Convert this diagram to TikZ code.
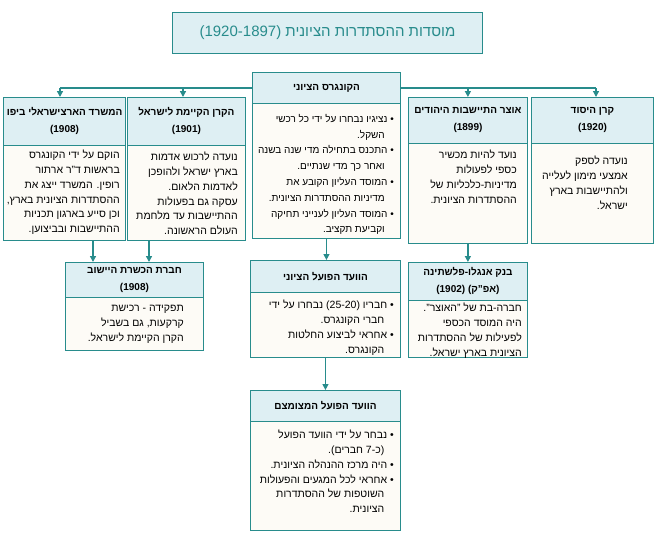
\documentclass[tikz,border=0pt]{standalone}
\usepackage{fontspec}
\setmainfont[Script=Hebrew]{Liberation Sans}
\TeXXeTstate=1
\usetikzlibrary{positioning,calc,arrows.meta}
\definecolor{teal1}{RGB}{40,140,140}
\definecolor{headfill}{RGB}{222,239,243}
\definecolor{bodyfill}{RGB}{253,251,246}
\newcommand{\R}[1]{\beginR #1\endR}
\newcommand{\RI}[1]{\beginR\hspace*{0.9em}#1\endR}
\tikzset{
  frame/.style={draw=teal1, line width=0.9pt, fill=bodyfill, anchor=north west, inner sep=0pt},
  head/.style={draw=teal1, line width=0.9pt, fill=headfill, anchor=north west, align=center, font=\bfseries\fontsize{10}{17}\selectfont},
  txt/.style={anchor=north east, align=right, font=\fontsize{10.5}{14.8}\selectfont, inner sep=0pt},
  link/.style={draw=teal1, line width=1.3pt},
  arr/.style={link, -{Triangle[length=6pt,width=6pt]}}
}
\begin{document}
\begin{tikzpicture}[x=1pt, y=-1pt]
\useasboundingbox (0,0) rectangle (656,539);
% title
\node[draw=teal1, line width=0.9pt, fill=headfill, anchor=north west, minimum width=310pt, minimum height=41pt, text=teal1, font=\fontsize{15}{17}\selectfont] (title) at (172,12) {\R{מוסדות ההסתדרות הציונית \beginL(1920-1897)\endL}};

% congress
\node[frame, minimum width=148pt, minimum height=166pt] (cong) at (252,72) {};
\node[head, minimum width=148pt, minimum height=31pt] (congh) at (252,72) {\R{הקונגרס הציוני}};
\node[txt, font=\fontsize{10}{15.8}\selectfont] (congt) at (394,114) {\R{• נציגיו נבחרו על ידי כל רכשי}\\\RI{השקל.}\\\R{• התכנס בתחילה מדי שנה בשנה}\\\RI{ואחר כך מדי שנתיים.}\\\R{• המוסד העליון הקובע את}\\\RI{מדיניות ההסתדרות הציונית.}\\\R{• המוסד העליון לענייני תחיקה}\\\RI{וקביעת תקציב.}};

% left boxes
\node[frame, minimum width=122pt, minimum height=143pt] (misrad) at (3,97) {};
\node[head, minimum width=122pt, minimum height=48pt] (misradh) at (3,97) {\R{המשרד הארצישראלי ביפו}\\(1908)};
\node[txt] (misradt) at (120,150) {\R{הוקם על ידי הקונגרס}\\\R{בראשות ד"ר ארתור}\\\R{רופין. המשרד ייצג את}\\\R{ההסתדרות הציונית בארץ,}\\\R{וכן סייע בארגון תכניות}\\\R{ההתיישבות ובביצוען.}};

\node[frame, minimum width=118pt, minimum height=143pt] (kkl) at (127,97) {};
\node[head, minimum width=118pt, minimum height=48pt] (kklh) at (127,97) {\R{הקרן הקיימת לישראל}\\(1901)};
\node[txt] (kklt) at (238,152) {\R{נועדה לרכוש אדמות}\\\R{בארץ ישראל ולהופכן}\\\R{לאדמות הלאום.}\\\R{עסקה גם בפעולות}\\\R{ההתיישבות עד מלחמת}\\\R{העולם הראשונה.}};

% right boxes
\node[frame, minimum width=119pt, minimum height=146pt] (otzar) at (408,97) {};
\node[head, minimum width=119pt, minimum height=46pt] (otzarh) at (408,97) {\R{אוצר התיישבות היהודים}\\(1899)};
\node[txt] (otzart) at (517,150) {\R{נועד להיות מכשיר}\\\R{כספי לפעולות}\\\R{מדיניות-כלכליות של}\\\R{ההסתדרות הציונית.}};

\node[frame, minimum width=122pt, minimum height=146pt] (yesod) at (531,97) {};
\node[head, minimum width=122pt, minimum height=46pt] (yesodh) at (531,97) {\R{קרן היסוד}\\(1920)};
\node[txt] (yesodt) at (628,156) {\R{נועדה לספק}\\\R{אמצעי מימון לעלייה}\\\R{ולהתיישבות בארץ}\\\R{ישראל.}};

% second row
\node[frame, minimum width=138pt, minimum height=88pt] (hachshara) at (65,262) {};
\node[head, minimum width=138pt, minimum height=35pt] (hachsharah) at (65,262) {\R{חברת הכשרת היישוב}\\(1908)};
\node[txt] (hachsharat) at (184,305) {\R{תפקידה - רכישת}\\\R{קרקעות, גם בשביל}\\\R{הקרן הקיימת לישראל.}};

\node[frame, minimum width=150pt, minimum height=97pt] (vaad) at (250,260) {};
\node[head, minimum width=150pt, minimum height=32pt] (vaadh) at (250,260) {\R{הוועד הפועל הציוני}};
\node[txt] (vaadt) at (394,300) {\R{• חבריו \beginL(25-20)\endL{} נבחרו על ידי}\\\RI{חברי הקונגרס.}\\\R{• אחראי לביצוע החלטות}\\\RI{הקונגרס.}};

\node[frame, minimum width=150pt, minimum height=140pt] (mezum) at (250,390) {};
\node[head, minimum width=150pt, minimum height=31pt] (mezumh) at (250,390) {\R{הוועד הפועל המצומצם}};
\node[txt] (mezumt) at (394,430) {\R{• נבחר על ידי הוועד הפועל}\\\RI{(כ-7 חברים).}\\\R{• היה מרכז ההנהלה הציונית.}\\\R{• אחראי לכל המגעים והפעולות}\\\RI{השוטפות של ההסתדרות}\\\RI{הציונית.}};

\node[frame, minimum width=119pt, minimum height=95pt] (bank) at (408,262) {};
\node[head, minimum width=119pt, minimum height=38pt] (bankh) at (408,262) {\R{בנק אנגלו-פלשתינה}\\\R{(אפ"ק) (1902)}};
\node[txt] (bankt) at (522,303) {\R{חברה-בת של "האוצר".}\\\R{היה המוסד הכספי}\\\R{לפעילות של ההסתדרות}\\\R{הציונית בארץ ישראל.}};

% connectors
\coordinate (hl) at (60,88);
\coordinate (hr) at (596,88);
\draw[link] (cong.west |- hl) -- (hl);
\draw[link] (cong.east |- hr) -- (hr);
\draw[arr] (hl) -- (misrad.north -| hl);
\draw[arr] (cong.west |- hl) ++(-69,0) coordinate (hk) -- (kkl.north -| hk);
\draw[arr] (cong.east |- hr) ++(67,0) coordinate (ho) -- (otzar.north -| ho);
\draw[arr] (hr) -- (yesod.north -| hr);
\draw[arr] (misrad.south -| 93,0) -- (hachshara.north -| 93,0);
\draw[arr] (kkl.south -| 149,0) -- (hachshara.north -| 149,0);
\draw[arr] (cong.south) -- (vaad.north -| cong.south);
\draw[arr] (vaad.south) -- (mezum.north);
\draw[arr] (otzar.south -| ho) -- (bank.north -| ho);
\end{tikzpicture}
\end{document}
